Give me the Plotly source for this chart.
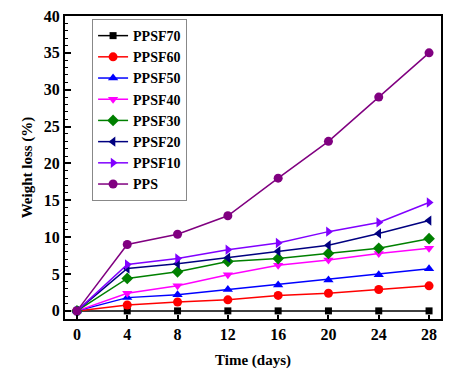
import plotly.graph_objects as go

days = [0, 4, 8, 12, 16, 20, 24, 28]
ppsf70 = [0, 0, 0, 0, 0, 0, 0, 0]
ppsf60 = [0, 0.8, 1.2, 1.5, 2.1, 2.4, 2.9, 3.4]
ppsf50 = [0, 1.8, 2.2, 2.9, 3.5, 4.2, 4.9, 5.7]
ppsf40 = [0, 2.4, 3.4, 4.9, 6.2, 6.9, 7.8, 8.5]
ppsf30 = [0, 4.4, 5.3, 6.7, 7.1, 7.8, 8.5, 9.8]
ppsf20 = [0, 5.75, 6.4, 7.2, 8.1, 8.9, 10.5, 12.25]
ppsf10 = [0, 6.3, 7.1, 8.3, 9.2, 10.75, 12.0, 14.7]
pps = [0, 9.0, 10.4, 12.9, 18.0, 23.0, 29.0, 35.0]

series = [
    ("PPSF70", ppsf70, "#000000", "square"),
    ("PPSF60", ppsf60, "#FF0000", "circle"),
    ("PPSF50", ppsf50, "#0000FF", "triangle-up"),
    ("PPSF40", ppsf40, "#FF00FF", "triangle-down"),
    ("PPSF30", ppsf30, "#008000", "diamond"),
    ("PPSF20", ppsf20, "#000080", "triangle-left"),
    ("PPSF10", ppsf10, "#8000FF", "triangle-right"),
    ("PPS", pps, "#800080", "circle"),
]

font_family = "Liberation Serif, Times New Roman, serif"

fig = go.Figure()
for name, vals, color, sym in series:
    fig.add_trace(go.Scatter(
        x=days, y=vals, name=name, mode="lines+markers",
        line=dict(color=color, width=1.5),
        marker=dict(symbol=sym, size=9 if sym != "square" else 7, color=color),
    ))

fig.update_layout(
    width=462, height=368,
    margin=dict(l=57, r=29, t=8, b=57),
    paper_bgcolor="white", plot_bgcolor="white",
    font=dict(family=font_family, size=15, color="black", weight="bold"),
    showlegend=True,
    legend=dict(
        x=0.072, y=0.99, xanchor="left", yanchor="top",
        bordercolor="#888888", borderwidth=1, bgcolor="white",
        font=dict(family=font_family, size=14, color="black", weight="bold"),
        itemwidth=30, tracegroupgap=0,
    ),
    xaxis=dict(
        automargin=False, ticklabeloverflow="allow",
        range=[-0.95, 28.95], tickvals=days, ticktext=[str(d) for d in days],
        showgrid=False, zeroline=False,
        showline=True, linecolor="black", linewidth=2, mirror=True,
        ticks="inside", ticklen=4, tickwidth=1.5, tickcolor="black",
        title=dict(text="Time (days)", font=dict(size=15, weight="bold"), standoff=12),
        tickfont=dict(size=16, weight="bold"),
    ),
    yaxis=dict(
        automargin=False, ticklabeloverflow="allow",
        range=[-1.1, 40], tickvals=[0, 5, 10, 15, 20, 25, 30, 35, 40],
        showgrid=False, zeroline=False,
        showline=True, linecolor="black", linewidth=2, mirror=True,
        ticks="inside", ticklen=6, tickwidth=1.5, tickcolor="black",
        minor=dict(dtick=1, tick0=0, ticks="inside", ticklen=3, tickcolor="black", tickwidth=1),
        title=dict(text="Weight loss (%)", font=dict(size=15, weight="bold"), standoff=8),
        tickfont=dict(size=16, weight="bold"),
    ),
)

fig.write_html("out.html")
